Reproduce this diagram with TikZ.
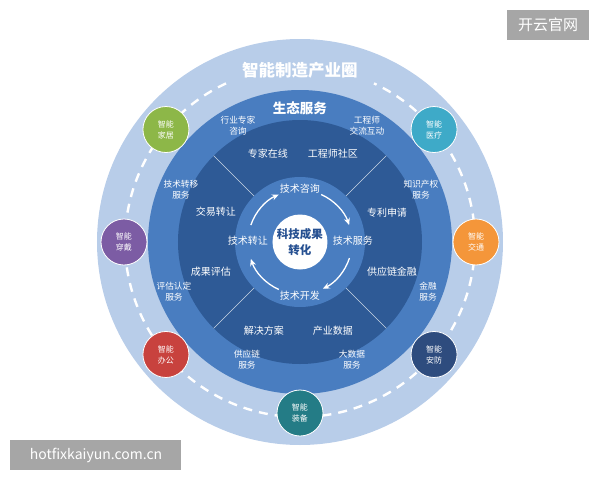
\documentclass[tikz,border=0pt]{standalone}
\usepackage{fontspec}
\setmainfont{Noto Sans CJK SC}
\setsansfont{Noto Sans CJK SC}
\usetikzlibrary{arrows.meta, positioning}

\definecolor{ringPale}{RGB}{184,205,233}
\definecolor{ringMid}{RGB}{73,125,192}
\definecolor{ringDark}{RGB}{46,90,150}
\definecolor{coreText}{RGB}{38,80,145}
\definecolor{markGray}{RGB}{166,166,166}
\definecolor{satHome}{RGB}{141,183,72}
\definecolor{satHealth}{RGB}{62,170,200}
\definecolor{satWear}{RGB}{124,92,164}
\definecolor{satTraffic}{RGB}{244,150,58}
\definecolor{satOffice}{RGB}{200,66,62}
\definecolor{satSecurity}{RGB}{46,76,126}
\definecolor{satEquip}{RGB}{36,124,134}

\tikzset{
    >=Latex,
    font=\sffamily,
    ring_title/.style={
        text=white,
        font=\sffamily\bfseries\fontsize{16.5}{18}\selectfont
    },
    eco_title/.style={
        text=white,
        font=\sffamily\bfseries\fontsize{13.5}{15}\selectfont
    },
    eco_label/.style={
        text=white,
        align=center,
        inner sep=0pt,
        font=\sffamily\fontsize{8.7}{11}\selectfont
    },
    platform_label/.style={
        text=white,
        inner sep=0pt,
        font=\sffamily\fontsize{10}{12}\selectfont
    },
    tech_label/.style={
        text=white,
        inner sep=1pt,
        font=\sffamily\fontsize{10}{12}\selectfont
    },
    core_node/.style={
        circle,
        fill=white,
        minimum size=55pt,
        inner sep=0pt,
        align=center,
        text=coreText,
        font=\sffamily\bfseries\fontsize{11.5}{16}\selectfont
    },
    sat_node/.style={
        circle,
        fill=#1,
        draw=white,
        line width=0.8pt,
        minimum size=46pt,
        inner sep=0pt,
        align=center,
        text=white,
        font=\sffamily\fontsize{8}{11}\selectfont
    },
    orbit_dash/.style={
        draw=white,
        line width=2.4pt,
        dash pattern=on 9pt off 7pt
    },
    sector_line/.style={
        draw=white!75!ringDark,
        line width=0.7pt
    },
    flow_arrow/.style={
        -{Stealth[length=7pt, width=6pt]},
        draw=white,
        line width=1.3pt
    },
    mark_box/.style={
        rectangle,
        fill=markGray,
        inner sep=0pt,
        text=white
    }
}

\begin{document}
\begin{tikzpicture}[x=1pt, y=1pt]
\useasboundingbox (-300,-238) rectangle (300,242);

% Rings
\fill[ringPale] (0,0) circle[radius=203];
\fill[ringMid] (0,0) circle[radius=152];
\fill[ringDark] (0,0) circle[radius=122];
\fill[ringMid] (0,0) circle[radius=65];
\foreach \a in {45,135,225,315}
  \draw[sector_line] (\a:65) -- (\a:122);
\draw[orbit_dash] (115:175) arc[start angle=115, end angle=425, radius=175];

% Titles
\node[ring_title] (IndustryTitle) at (0,172) {智能制造产业圈};
\node[eco_title] (EcoTitle) at (0,134) {生态服务};

% Ecosystem services
\node[eco_label] (ExpertAdvice) at (-62,116) {行业专家\\咨询};
\node[eco_label] (EngineerTalk) at (67,116) {工程师\\交流互动};
\node[eco_label] (TransferSvc) at (-119,52) {技术转移\\服务};
\node[eco_label] (PatentSvc) at (121,52) {知识产权\\服务};
\node[eco_label] (AssessSvc) at (-126,-50) {评估认定\\服务};
\node[eco_label] (FinanceSvc) at (128,-50) {金融\\服务};
\node[eco_label] (SupplySvc) at (-53,-118) {供应链\\服务};
\node[eco_label] (DataSvc) at (52,-118) {大数据\\服务};

% Platform ring
\node[platform_label] (ExpertOnline) at (-32,88) {专家在线};
\node[platform_label] (EngineerHub) at (33,88) {工程师社区};
\node[platform_label] (Trade) at (-84,30) {交易转让};
\node[platform_label] (Patent) at (87,29) {专利申请};
\node[platform_label] (Evaluate) at (-89,-30) {成果评估};
\node[platform_label] (SupplyFin) at (92,-30) {供应链金融};
\node[platform_label] (Solution) at (-36,-89) {解决方案};
\node[platform_label] (IndustryData) at (33,-89) {产业数据};

% Technology cycle
\node[core_node] (Core) at (0,0) {科技成果\\转化};
\node[tech_label] (Consult) at (0,53) {技术咨询};
\node[tech_label] (Service) at (53,1) {技术服务};
\node[tech_label] (Develop) at (0,-54) {技术开发};
\node[tech_label] (Transfer) at (-52,1) {技术转让};

\foreach \a/\n in {66/A, -18/B, -114/C, 161/D}
  \coordinate (Flow\n) at (\a:52);
\draw[flow_arrow] (FlowA) arc[start angle=66, end angle=19, radius=52];
\draw[flow_arrow] (FlowB) arc[start angle=-18, end angle=-64, radius=52];
\draw[flow_arrow] (FlowC) arc[start angle=-114, end angle=-161, radius=52];
\draw[flow_arrow] (FlowD) arc[start angle=161, end angle=114, radius=52];

% Satellites
\node[sat_node=satHome] (SmartHome) at (140:175) {智能\\家居};
\node[sat_node=satHealth] (SmartHealth) at (40:175) {智能\\医疗};
\node[sat_node=satWear] (SmartWear) at (180:176) {智能\\穿戴};
\node[sat_node=satTraffic] (SmartTraffic) at (0:176) {智能\\交通};
\node[sat_node=satOffice] (SmartOffice) at (220:175) {智能\\办公};
\node[sat_node=satSecurity] (SmartSecurity) at (320:175) {智能\\安防};
\node[sat_node=satEquip] (SmartEquip) at (270:171) {智能\\装备};

% Watermarks
\node[mark_box, minimum width=82pt, minimum height=30pt,
  font=\sffamily\fontsize{15}{17}\selectfont] (SiteMark) at (248,217) {开云官网};
\node[mark_box, minimum width=171pt, minimum height=30pt,
  font=\sffamily\fontsize{14}{16}\selectfont] (UrlMark) at (-204,-213) {hotfixkaiyun.com.cn};

\end{tikzpicture}
\end{document}
